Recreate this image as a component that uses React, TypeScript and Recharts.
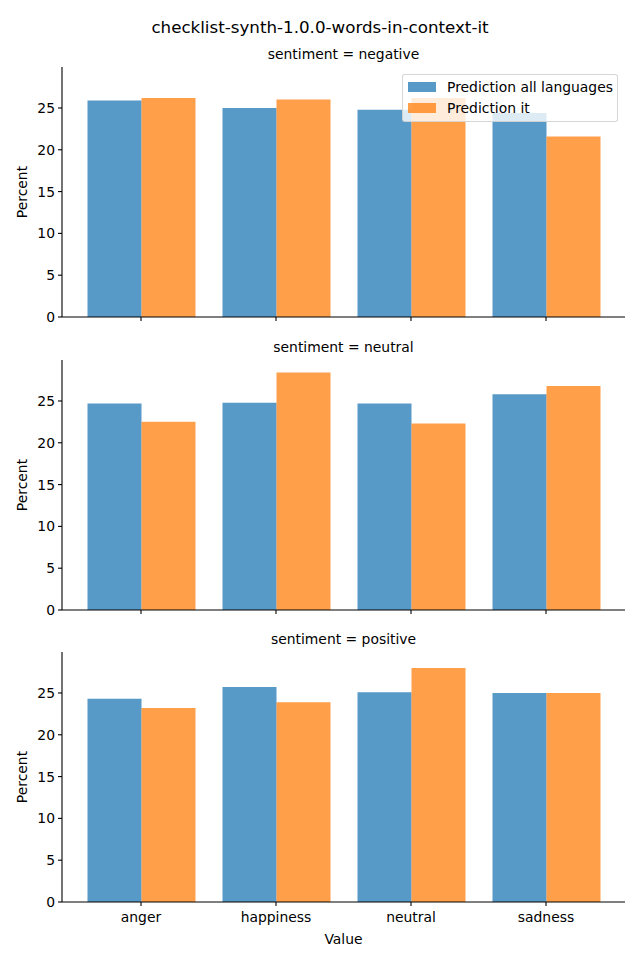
import React from "react";
import { Bar, BarChart, XAxis, YAxis } from "recharts";

const emotions = ["anger", "happiness", "neutral", "sadness"];
const sentiments = ["negative", "neutral", "positive"];

// percent per emotion, one array per sentiment
const allLangNegative = [25.9, 25.0, 24.8, 24.4];
const itNegative = [26.2, 26.0, 26.2, 21.6];
const allLangNeutral = [24.7, 24.8, 24.7, 25.8];
const itNeutral = [22.5, 28.4, 22.3, 26.8];
const allLangPositive = [24.3, 25.7, 25.1, 25.0];
const itPositive = [23.2, 23.9, 28.0, 25.0];

const yTicks = [0, 5, 10, 15, 20, 25];

const BLUE = "#1f77b4";
const ORANGE = "#ff7f0e";
const FONT = "'DejaVu Sans', sans-serif";

const seriesBySentiment: Record<string, number[][]> = {
  negative: [allLangNegative, itNegative],
  neutral: [allLangNeutral, itNeutral],
  positive: [allLangPositive, itPositive],
};

const panelTops = [67, 360, 652];

function LegendBox() {
  const items = [
    { name: "Prediction all languages", color: BLUE },
    { name: "Prediction it", color: ORANGE },
  ];
  return (
    <div
      style={{
        position: "absolute",
        left: 402,
        top: 74,
        width: 214,
        height: 44,
        background: "rgba(255,255,255,0.8)",
        border: "1px solid rgba(204,204,204,0.8)",
        borderRadius: 3,
        fontFamily: FONT,
        fontSize: 13.9,
        color: "#000",
        padding: "2px 0 0 0",
        boxSizing: "content-box",
        zIndex: 5,
      }}
    >
      {items.map((it) => (
        <div key={it.name} style={{ display: "flex", alignItems: "center", height: 20.5, marginLeft: 5 }}>
          <span
            style={{
              display: "inline-block",
              width: 28,
              height: 10,
              background: it.color,
              opacity: 0.75,
              marginRight: 11,
            }}
          />
          <span>{it.name}</span>
        </div>
      ))}
    </div>
  );
}

function Panel({ sentiment, idx }: { sentiment: string; idx: number }) {
  const [allVals, itVals] = seriesBySentiment[sentiment];
  const rows = emotions.map((e, i) => ({ emotion: e, all: allVals[i], it: itVals[i] }));
  const last = idx === sentiments.length - 1;
  const xHeight = last ? 50 : 10;

  return (
    <div style={{ position: "absolute", left: 0, top: panelTops[idx] - 22 }}>
      <div
        style={{
          position: "absolute",
          left: 62,
          width: 563,
          top: 0,
          textAlign: "center",
          fontFamily: FONT,
          fontSize: 13.9,
          lineHeight: "18px",
          whiteSpace: "nowrap",
        }}
      >
        sentiment = {sentiment}
      </div>
      <div style={{ position: "absolute", left: 0, top: 22 }}>
        <BarChart
          width={640}
          height={250 + xHeight}
          data={rows}
          margin={{ top: 0, right: 15, bottom: 0, left: 22 }}
          barGap={0}
          barCategoryGap="10%"
        >
          <XAxis
            dataKey="emotion"
            height={xHeight}
            padding={{ left: 11.5, right: 11.5 }}
            axisLine={{ stroke: "#000", strokeWidth: 1.1 }}
            tickLine={{ stroke: "#000", strokeWidth: 1.1 }}
            tickSize={4}
            tickMargin={6}
            tick={last ? { fill: "#000", fontSize: 13.9, fontFamily: FONT } : () => <g />}
            interval={0}
            label={
              last
                ? { value: "Value", position: "insideBottom", offset: 8, fill: "#000", fontSize: 13.9, fontFamily: FONT }
                : undefined
            }
          />
          <YAxis
            width={40}
            domain={[0, 29.9]}
            ticks={yTicks}
            allowDataOverflow
            axisLine={{ stroke: "#000", strokeWidth: 1.1 }}
            tickLine={{ stroke: "#000", strokeWidth: 1.1 }}
            tickSize={4}
            tickMargin={3}
            tick={{ fill: "#000", fontSize: 13.9, fontFamily: FONT }}
            label={{
              content: (props: any) => {
                const vb = props.viewBox || {};
                const cx = 22;
                const cy = vb.y + vb.height / 2;
                return (
                  <text
                    x={cx}
                    y={cy}
                    transform={`rotate(-90 ${cx} ${cy})`}
                    textAnchor="middle"
                    dominantBaseline="central"
                    fill="#000"
                    fontSize={13.9}
                    fontFamily={FONT}
                  >
                    Percent
                  </text>
                );
              },
            }}
          />
          <Bar dataKey="all" name="Prediction all languages" fill={BLUE} fillOpacity={0.75} barSize={54} isAnimationActive={false} />
          <Bar dataKey="it" name="Prediction it" fill={ORANGE} fillOpacity={0.75} barSize={54} isAnimationActive={false} />
        </BarChart>
      </div>
    </div>
  );
}

export default function App() {
  return (
    <div style={{ position: "absolute", left: 0, top: 0, width: 640, height: 960, background: "#fff" }}>
      <div
        style={{
          position: "absolute",
          top: 17,
          left: 0,
          width: 640,
          textAlign: "center",
          fontFamily: FONT,
          fontSize: 16.7,
          lineHeight: "20px",
        }}
      >
        checklist-synth-1.0.0-words-in-context-it
      </div>
      {sentiments.map((s, i) => (
        <Panel key={s} sentiment={s} idx={i} />
      ))}
      <LegendBox />
    </div>
  );
}
